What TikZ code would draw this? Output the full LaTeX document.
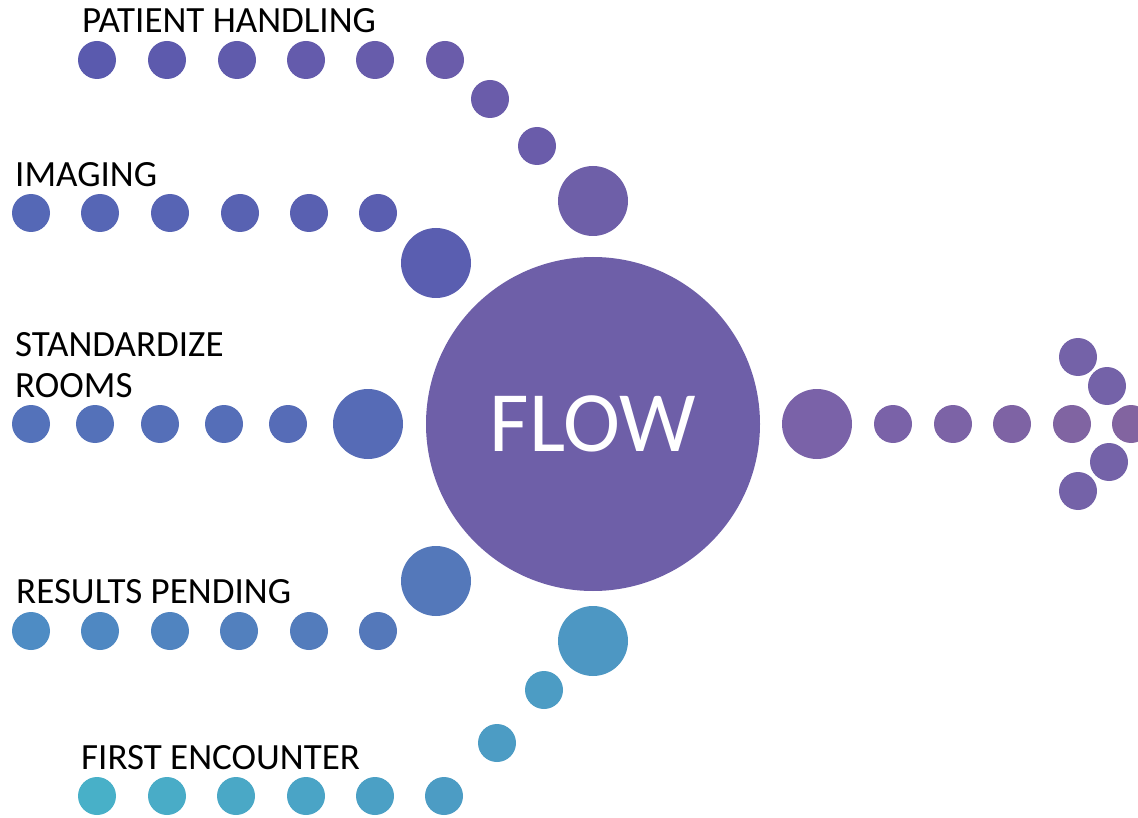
\documentclass[tikz,border=0pt]{standalone}
\usepackage{fontspec}
\setmainfont{Carlito}
\definecolor{phA}{HTML}{5A5AAE}
\definecolor{phB}{HTML}{6A5CAA}
\definecolor{imA}{HTML}{5568B6}
\definecolor{imB}{HTML}{5A5EB0}
\definecolor{sdA}{HTML}{5472BA}
\definecolor{sdB}{HTML}{566BB6}
\definecolor{rpA}{HTML}{4E8CC4}
\definecolor{rpB}{HTML}{5478BA}
\definecolor{feA}{HTML}{48B0C8}
\definecolor{feB}{HTML}{4C9CC4}
\definecolor{flowc}{HTML}{6E5FA8}
\definecolor{outA}{HTML}{7A62A8}
\definecolor{outB}{HTML}{8264A0}
\definecolor{headc}{HTML}{7462A8}
\tikzset{
  dot/.style={circle,inner sep=0pt,minimum size=38pt,fill=#1},
  bigdot/.style={circle,inner sep=0pt,minimum size=70pt,fill=#1},
  lbl/.style={anchor=base west,inner sep=0pt,font=\fontsize{37}{40}\selectfont,text=black},
}
\begin{document}
\begin{tikzpicture}[x=1pt,y=-1pt]
\useasboundingbox (0,0) rectangle (1138,818);
% central circle
\node[circle,inner sep=0pt,minimum size=334pt,fill=flowc,text=white,font=\fontsize{86}{90}\selectfont] (flow) at (593,424) {FLOW};
% patient handling
\foreach \x [count=\i from 0] in {97,167,237,306,375,445}{
  \pgfmathtruncatemacro{\p}{100-\i*20}
  \node[dot={phA!\p!phB}] (ph\i) at (\x,60) {};
}
\node[dot=phB] (phd1) at (490,99) {};
\node[dot=phB] (phd2) at (537,146) {};
\node[bigdot=flowc] (phbig) at (593,201) {};
\node[lbl] (phlbl) at (82,33) {PATIENT HANDLING};
% imaging
\foreach \x [count=\i from 0] in {31,100,170,240,309,378}{
  \pgfmathtruncatemacro{\p}{100-\i*20}
  \node[dot={imA!\p!imB}] (im\i) at (\x,213) {};
}
\node[bigdot=imB] (imbig) at (436,263) {};
\node[lbl] (imlbl) at (15,187) {IMAGING};
% standardize rooms
\foreach \x [count=\i from 0] in {31,95,160,224,288}{
  \pgfmathtruncatemacro{\p}{100-\i*20}
  \node[dot={sdA!\p!sdB}] (sd\i) at (\x,424) {};
}
\node[bigdot=sdB] (sdbig) at (368,424) {};
\node[lbl] (sdlbl1) at (15,356) {STANDARDIZE};
\node[lbl] (sdlbl2) at (15,397) {ROOMS};
% results pending
\foreach \x [count=\i from 0] in {31,100,170,239,309,378}{
  \pgfmathtruncatemacro{\p}{100-\i*20}
  \node[dot={rpA!\p!rpB}] (rp\i) at (\x,631) {};
}
\node[bigdot=rpB] (rpbig) at (436,581) {};
\node[lbl] (rplbl) at (16,603) {RESULTS PENDING};
% first encounter
\foreach \x [count=\i from 0] in {97,167,236,306,375,444}{
  \pgfmathtruncatemacro{\p}{100-\i*20}
  \node[dot={feA!\p!feB}] (fe\i) at (\x,796) {};
}
\node[dot=feB] (fed1) at (497,743) {};
\node[dot=feB] (fed2) at (544,690) {};
\node[bigdot=feB!85!rpB] (febig) at (593,641) {};
\node[lbl] (felbl) at (81,769) {FIRST ENCOUNTER};
% outgoing arrow
\node[bigdot=outA] (outbig) at (817,424) {};
\foreach \x [count=\i from 0] in {893,953,1012,1072,1131}{
  \pgfmathtruncatemacro{\p}{100-\i*25}
  \node[dot={outA!\p!outB}] (out\i) at (\x,424) {};
}
\node[dot=headc] (hd1) at (1078,357) {};
\node[dot=headc] (hd2) at (1107,386) {};
\node[dot=headc] (hd3) at (1109,462) {};
\node[dot=headc] (hd4) at (1078,491) {};
\end{tikzpicture}
\end{document}
